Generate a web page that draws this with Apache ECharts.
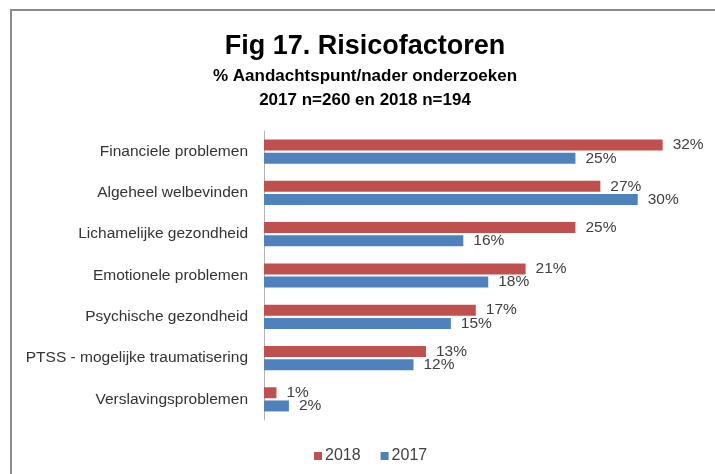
<!DOCTYPE html>
<html>
<head>
<meta charset="utf-8">
<script src="https://cdn.jsdelivr.net/npm/echarts@6/dist/echarts.min.js"></script>
<style>
html,body{margin:0;padding:0;background:#fff;}
#chart{width:715px;height:474px;}
</style>
</head>
<body>
<div id="chart"></div>
<script>
const categories = [
  'Financiele problemen',
  'Algeheel welbevinden',
  'Lichamelijke gezondheid',
  'Emotionele problemen',
  'Psychische gezondheid',
  'PTSS - mogelijke traumatisering',
  'Verslavingsproblemen'
];
const values2018 = [32, 27, 25, 21, 17, 13, 1];
const values2017 = [25, 30, 16, 18, 15, 12, 2];
const seriesNames = ['2018', '2017'];
const titleText = 'Fig 17. Risicofactoren';
const subtitleLines = ['% Aandachtspunt/nader onderzoeken', '2017 n=260 en 2018 n=194'];

const FONT = '"Liberation Sans", Arial, sans-serif';
const chart = echarts.init(document.getElementById('chart'), null, {renderer: 'canvas'});

const labelCfg = {
  show: true,
  position: 'right',
  distance: 10,
  color: '#404040',
  fontFamily: FONT,
  fontSize: 15.5,
  formatter: p => p.value + '%'
};

chart.setOption({
  animation: false,
  backgroundColor: '#ffffff',
  graphic: [
    {
      type: 'polyline',
      shape: {points: [[11, 474], [11, 10], [715, 10]]},
      style: {stroke: '#8a8a8a', lineWidth: 2, fill: null},
      silent: true
    },
    {
      type: 'text',
      x: 365,
      y: 31,
      silent: true,
      style: {
        text: titleText,
        fontFamily: FONT, fontSize: 27, fontWeight: 'bold', fill: '#000000',
        lineHeight: 32, align: 'center', verticalAlign: 'top'
      }
    },
    {
      type: 'text',
      x: 365,
      y: 64,
      silent: true,
      style: {
        text: subtitleLines.join('\n'),
        fontFamily: FONT, fontSize: 17, fontWeight: 'bold', fill: '#000000',
        lineHeight: 24.5, align: 'center', verticalAlign: 'top'
      }
    }
  ],
  legend: {
    data: seriesNames,
    left: 309,
    top: 443,
    icon: 'rect',
    itemWidth: 8,
    itemHeight: 8,
    itemGap: 20,
    textStyle: {fontFamily: FONT, fontSize: 16, color: '#404040', padding: [0, 0, 0, -2]}
  },
  grid: {left: 264, right: 15, top: 131, bottom: 54, containLabel: false},
  xAxis: {
    type: 'value',
    min: 0,
    max: 35,
    show: false,
    splitLine: {show: false}
  },
  yAxis: {
    type: 'category',
    data: categories,
    inverse: true,
    axisTick: {show: false},
    axisLine: {show: true, lineStyle: {color: '#b3b3b3', width: 1}},
    axisLabel: {color: '#333333', fontFamily: FONT, fontSize: 15.5, margin: 16}
  },
  series: [
    {
      name: seriesNames[0],
      type: 'bar',
      data: values2018,
      barWidth: 11,
      barGap: '20%',
      itemStyle: {color: '#C0504D'},
      label: labelCfg
    },
    {
      name: seriesNames[1],
      type: 'bar',
      data: values2017,
      barWidth: 11,
      barGap: '20%',
      itemStyle: {color: '#4F81BD'},
      label: labelCfg
    }
  ]
});
</script>
</body>
</html>
